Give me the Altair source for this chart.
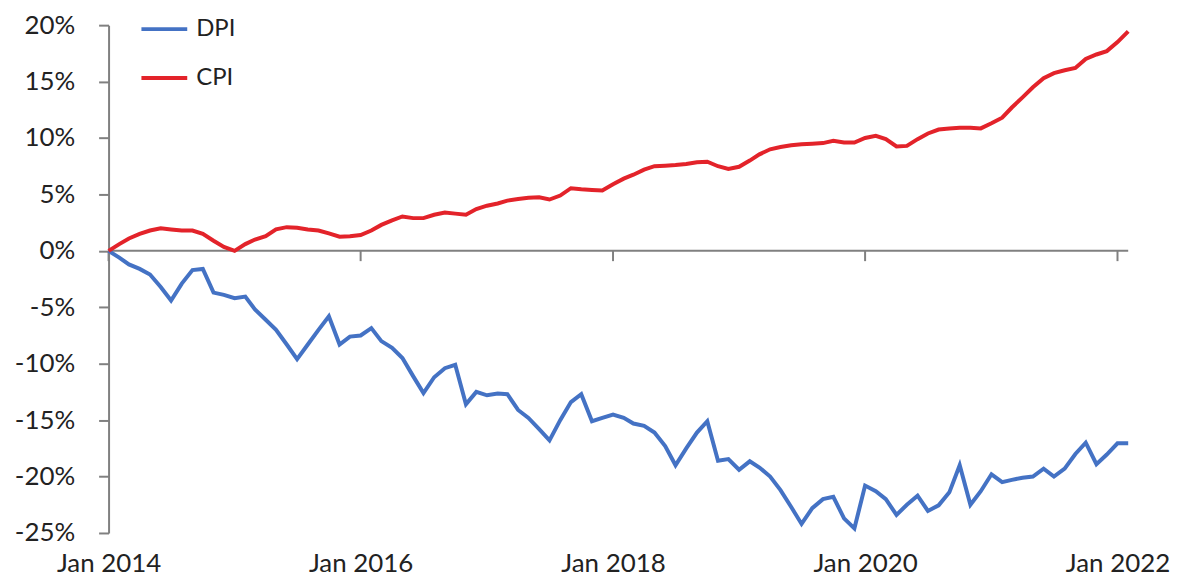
import altair as alt
import pandas as pd

# Monthly series, Jan 2014 .. Feb 2022, cumulative % change since Jan 2014
dpi = [0.0, -0.6, -1.2, -1.6, -2.1, -3.2, -4.4, -2.9, -1.7, -1.6,
       -3.7, -3.9, -4.2, -4.05, -5.2, -6.1, -7.0, -8.3, -9.6, -8.3,
       -7.0, -5.8, -8.3, -7.6, -7.5, -6.85, -8.0, -8.6, -9.5, -11.1,
       -12.6, -11.2, -10.4, -10.1, -13.6, -12.5, -12.8, -12.65, -12.7, -14.1,
       -14.8, -15.8, -16.8, -15.0, -13.4, -12.7, -15.1, -14.8, -14.5, -14.8,
       -15.3, -15.5, -16.1, -17.3, -19.0, -17.5, -16.1, -15.1, -18.6, -18.45,
       -19.4, -18.65, -19.2, -20.0, -21.2, -22.7, -24.2, -22.8, -22.0, -21.8,
       -23.7, -24.6, -20.8, -21.3, -22.0, -23.4, -22.5, -21.7, -23.05, -22.55,
       -21.4, -19.0, -22.5, -21.3, -19.8, -20.5, -20.3, -20.1, -20.0, -19.3,
       -20.0, -19.3, -18.0, -17.0, -18.9, -18.05, -17.05, -17.05]
cpi = [0.0, 0.6, 1.1, 1.5, 1.8, 2.0, 1.9, 1.8, 1.8, 1.5,
       0.9, 0.35, 0.0, 0.6, 1.0, 1.3, 1.9, 2.1, 2.05, 1.9,
       1.8, 1.55, 1.25, 1.3, 1.4, 1.8, 2.3, 2.7, 3.05, 2.9,
       2.9, 3.2, 3.4, 3.3, 3.2, 3.7, 4.0, 4.2, 4.45, 4.6,
       4.7, 4.75, 4.55, 4.9, 5.55, 5.45, 5.4, 5.35, 5.9, 6.4,
       6.75, 7.2, 7.5, 7.55, 7.6, 7.7, 7.85, 7.9, 7.5, 7.25,
       7.45, 8.0, 8.55, 9.0, 9.2, 9.35, 9.45, 9.5, 9.55, 9.75,
       9.6, 9.6, 10.0, 10.2, 9.9, 9.25, 9.3, 9.9, 10.4, 10.75,
       10.85, 10.9, 10.9, 10.85, 11.3, 11.8, 12.7, 13.6, 14.5, 15.3,
       15.75, 16.0, 16.2, 17.0, 17.4, 17.7, 18.5, 19.45]
dates = [f"{2014 + i // 12}-{i % 12 + 1:02d}-01" for i in range(len(dpi))]
series_names = ["DPI", "CPI"]
series_colors = ["#4472C4", "#E3232A"]
tick_years = [2014, 2016, 2018, 2020, 2022]
y_ticks = [-25, -20, -15, -10, -5, 0, 5, 10, 15, 20]

df = pd.DataFrame({
    "date": dates * 2,
    "value": dpi + cpi,
    "series": ["DPI"] * len(dpi) + ["CPI"] * len(cpi),
})
tick_df = pd.DataFrame({"date": [f"{y}-01-01" for y in tick_years]})
zero_df = pd.DataFrame({"start": [dates[0]], "end": [dates[-1]]})

FONT = "Lato"
x_domain = [alt.DateTime(year=2014, month=1, date=1, utc=True),
            alt.DateTime(year=2022, month=2, date=1, utc=True)]
x_scale = alt.Scale(type="utc", domain=x_domain, nice=False)
y_scale = alt.Scale(domain=[-25, 20], nice=False)

lines = alt.Chart(df).mark_line(strokeWidth=4).encode(
    x=alt.X("date:T", scale=x_scale,
            axis=alt.Axis(values=[alt.DateTime(year=y, month=1, date=1, utc=True) for y in tick_years],
                          format="%b %Y", title=None, domain=False, ticks=False,
                          grid=False, labelFontSize=26, labelFont=FONT,
                          labelColor="#222222", labelPadding=18,
                          labelFlush=False)),
    y=alt.Y("value:Q", scale=y_scale,
            axis=alt.Axis(values=y_ticks, labelExpr="datum.value + '%'",
                          title=None, grid=False, domain=True,
                          domainColor="#808080", domainWidth=2,
                          tickColor="#808080", tickWidth=2, tickSize=10,
                          labelFontSize=26, labelFont=FONT,
                          labelColor="#222222", labelPadding=24)),
    color=alt.Color("series:N",
                    scale=alt.Scale(domain=series_names, range=series_colors),
                    legend=alt.Legend(orient="none", legendX=31, legendY=-21,
                                      title=None, symbolType="stroke",
                                      symbolSize=2116, symbolStrokeWidth=4,
                                      labelFontSize=24, labelFont=FONT,
                                      labelColor="#222222", labelOffset=7,
                                      rowPadding=12, padding=0)),
)

zero_line = alt.Chart(zero_df).mark_rule(color="#808080", strokeWidth=2).encode(
    x=alt.X("start:T", scale=x_scale),
    x2="end:T",
    y=alt.datum(0),
)

ticks = alt.Chart(tick_df).mark_rule(color="#808080", strokeWidth=2).encode(
    x=alt.X("date:T", scale=x_scale),
    y=alt.datum(0),
    y2=alt.value(237),
)

chart = alt.layer(zero_line, ticks, lines).properties(
    width=1024, height=510,
    autosize=alt.AutoSizeParams(type="none"),
    padding={"left": 101, "top": 16, "right": 47, "bottom": 45},
    background="white",
).configure_view(stroke=None)

chart.save("out.html", embed_options={"renderer": "svg", "actions": False})
